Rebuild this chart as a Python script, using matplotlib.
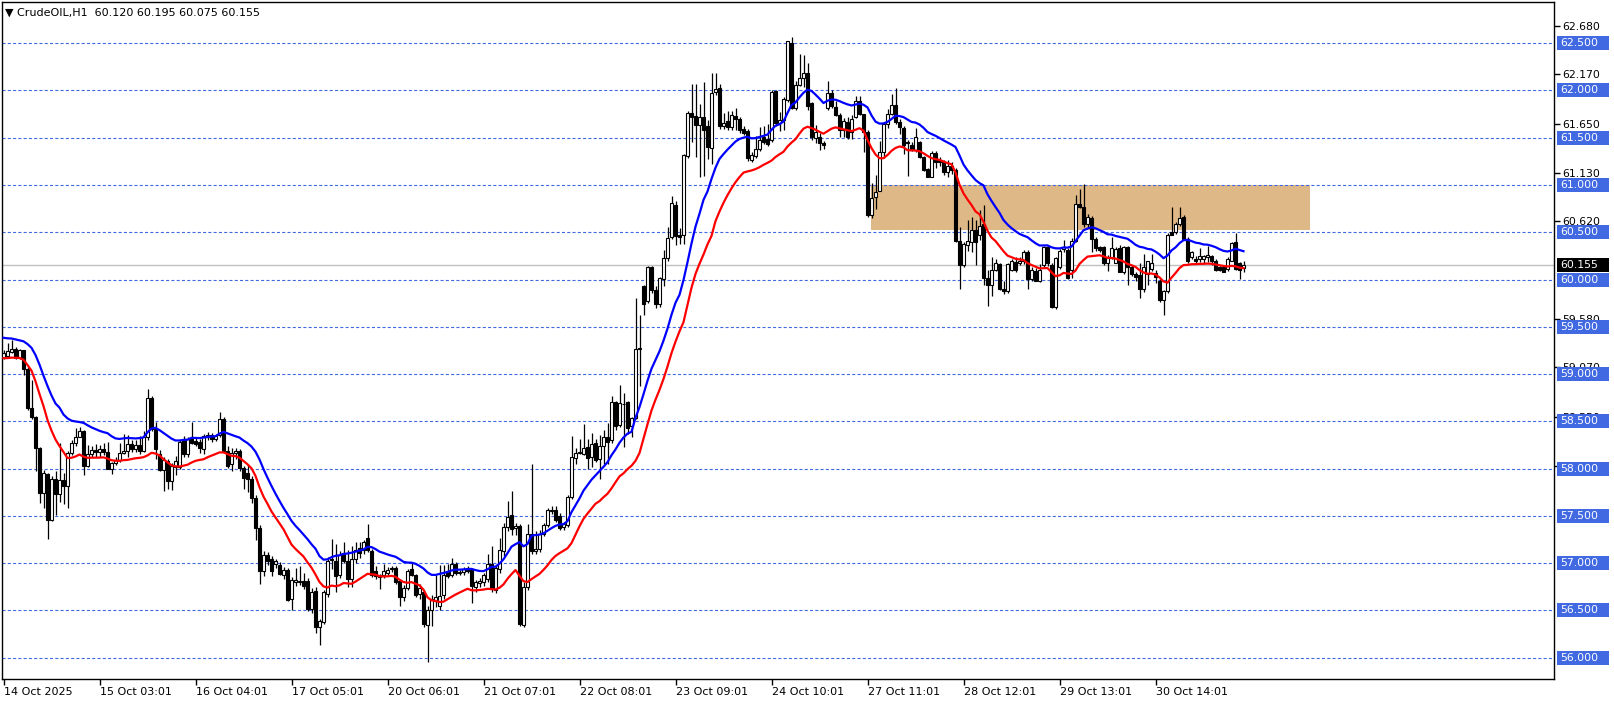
import numpy as np
import matplotlib
matplotlib.use('Agg')
import matplotlib.pyplot as plt
import matplotlib.transforms as mtransforms
from matplotlib.patches import Rectangle

# CrudeOIL H1 candles, 14 Oct 2025 .. 30 Oct 2025
opens = [
    59.18, 59.19, 59.23, 59.27, 59.17, 59.25, 59.05, 58.64, 58.55, 58.22, 57.74, 57.94,
    57.46, 57.89, 57.73, 57.88, 57.82, 58.17, 58.27, 58.34, 58.40, 58.03, 58.15, 58.20,
    58.18, 58.21, 58.18, 58.00, 58.06, 58.09, 58.17, 58.19, 58.26, 58.21, 58.25, 58.19,
    58.33, 58.75, 58.42, 58.16, 57.99, 58.08, 57.87, 58.02, 58.02, 58.31, 58.15, 58.31,
    58.29, 58.28, 58.21, 58.33, 58.36, 58.31, 58.36, 58.52, 58.19, 58.05, 58.17, 58.19,
    58.01, 57.95, 57.89, 57.69, 57.37, 56.92, 57.09, 57.04, 56.99, 56.98, 56.88, 56.93,
    56.62, 56.80, 56.80, 56.81, 56.81, 56.52, 56.71, 56.33, 56.38, 56.67, 57.03, 57.02,
    56.87, 57.11, 57.02, 56.83, 57.04, 57.16, 57.14, 57.27, 57.13, 56.92, 56.88, 56.87,
    56.90, 56.94, 56.95, 56.81, 56.64, 56.74, 56.94, 56.87, 56.67, 56.70, 56.35, 56.51,
    56.60, 56.55, 56.66, 56.92, 56.87, 56.99, 56.90, 56.91, 56.95, 56.93, 56.75, 56.79,
    56.80, 56.83, 56.99, 56.72, 56.94, 57.13, 57.38, 57.51, 57.37, 57.39, 56.35, 56.75,
    57.31, 57.13, 57.15, 57.31, 57.40, 57.55, 57.56, 57.50, 57.38, 57.40, 57.70, 58.11,
    58.17, 58.16, 58.23, 58.12, 58.27, 58.10, 58.24, 58.34, 58.30, 58.71, 58.46, 58.68,
    58.70, 58.45, 58.54, 59.27, 59.93, 59.77, 60.13, 59.89, 59.74, 60.01, 60.23, 60.45,
    60.79, 60.47, 60.47, 61.31, 61.76, 61.73, 61.64, 61.72, 61.62, 61.39, 61.98, 62.03,
    61.62, 61.68, 61.61, 61.73, 61.70, 61.59, 61.57, 61.26, 61.31, 61.38, 61.51, 61.49,
    61.48, 61.99, 61.66, 61.69, 61.90, 62.50, 61.82, 62.06, 62.13, 62.18, 61.87, 61.50,
    61.51, 61.44, 61.81, 61.97, 61.83, 61.74, 61.58, 61.67, 61.56, 61.72, 61.89, 61.75,
    61.56, 60.68, 60.87, 60.94, 61.35, 61.65, 61.75, 61.85, 61.67, 61.60, 61.45, 61.42,
    61.37, 61.45, 61.30, 61.17, 61.09, 61.34, 61.26, 61.24, 61.14, 61.20, 61.16, 60.41,
    60.15, 60.37, 60.40, 60.52, 60.47, 60.59, 60.02, 59.94, 60.10, 60.16, 59.90, 59.88,
    60.10, 60.19, 60.17, 60.20, 60.29, 60.01, 60.09, 59.99, 60.15, 60.34, 60.15, 59.71,
    60.13, 60.32, 60.31, 60.10, 60.41, 60.80, 60.77, 60.59, 60.65, 60.43, 60.34, 60.34,
    60.17, 60.23, 60.18, 60.33, 60.08, 60.34, 60.13, 60.06, 60.05, 59.90, 60.06, 60.11,
    60.07, 59.99, 59.78, 59.88, 60.50, 60.50, 60.59, 60.66, 60.43, 60.24, 60.22, 60.22,
    60.22, 60.24, 60.25, 60.20, 60.13, 60.13, 60.11, 60.20, 60.40, 60.17, 60.12]

highs = [
    59.25, 59.33, 59.36, 59.29, 59.27, 59.26, 59.07, 58.94, 58.56, 58.23, 57.99, 57.95,
    57.92, 57.97, 58.27, 57.95, 58.19, 58.30, 58.43, 58.44, 58.41, 58.25, 58.24, 58.26,
    58.25, 58.27, 58.28, 58.07, 58.12, 58.27, 58.37, 58.36, 58.30, 58.30, 58.35, 58.40,
    58.84, 58.77, 58.49, 58.20, 58.12, 58.10, 58.06, 58.13, 58.30, 58.35, 58.33, 58.49,
    58.32, 58.31, 58.37, 58.39, 58.38, 58.37, 58.60, 58.55, 58.24, 58.22, 58.22, 58.21,
    58.03, 58.04, 57.92, 57.72, 57.40, 57.13, 57.12, 57.08, 57.04, 57.01, 56.96, 56.95,
    56.85, 56.95, 56.97, 56.90, 56.84, 56.74, 56.75, 56.41, 56.72, 57.07, 57.26, 57.20,
    57.13, 57.22, 57.14, 57.18, 57.22, 57.22, 57.25, 57.41, 57.15, 56.97, 56.89, 56.99,
    56.96, 56.97, 56.97, 56.83, 56.77, 56.94, 57.00, 56.89, 56.78, 56.71, 56.55, 56.66,
    56.87, 56.98, 56.98, 56.99, 57.06, 57.01, 56.93, 56.96, 56.97, 56.95, 56.82, 56.84,
    56.90, 57.10, 57.18, 56.98, 57.27, 57.43, 57.66, 57.76, 57.42, 57.41, 56.80, 57.41,
    58.05, 57.34, 57.35, 57.43, 57.58, 57.60, 57.60, 57.53, 57.44, 57.72, 58.35, 58.22,
    58.31, 58.47, 58.31, 58.38, 58.31, 58.36, 58.41, 58.48, 58.77, 58.72, 58.88, 58.80,
    58.72, 58.55, 59.80, 59.62, 59.94, 60.14, 60.14, 59.93, 60.03, 60.31, 60.56, 60.88,
    60.83, 60.55, 61.33, 61.78, 62.07, 62.07, 61.86, 62.09, 61.69, 62.19, 62.19, 62.07,
    61.76, 61.78, 61.78, 61.82, 61.72, 61.62, 61.59, 61.35, 61.52, 61.61, 61.62, 61.65,
    62.01, 62.00, 61.77, 61.93, 62.52, 62.57, 62.10, 62.39, 62.38, 62.29, 61.88, 61.63,
    61.55, 61.47, 62.10, 62.01, 61.89, 61.76, 61.71, 61.72, 61.74, 61.94, 61.94, 61.75,
    61.58, 61.02, 61.11, 61.47, 61.67, 61.80, 61.96, 62.03, 61.70, 61.62, 61.48, 61.45,
    61.60, 61.47, 61.31, 61.18, 61.36, 61.36, 61.30, 61.26, 61.26, 61.24, 61.18, 60.56,
    60.40, 60.63, 60.66, 60.63, 60.74, 60.79, 60.10, 60.24, 60.22, 60.18, 59.98, 60.18,
    60.22, 60.24, 60.24, 60.31, 60.31, 60.13, 60.12, 60.16, 60.36, 60.37, 60.17, 60.24,
    60.32, 60.42, 60.33, 60.44, 60.89, 60.96, 61.01, 60.69, 60.67, 60.45, 60.36, 60.35,
    60.26, 60.45, 60.34, 60.37, 60.35, 60.35, 60.15, 60.08, 60.17, 60.27, 60.20, 60.27,
    60.10, 60.01, 59.89, 60.49, 60.77, 60.61, 60.77, 60.68, 60.45, 60.30, 60.25, 60.33,
    60.26, 60.35, 60.26, 60.22, 60.14, 60.15, 60.24, 60.40, 60.49, 60.19, 60.195]

lows = [
    59.16, 59.17, 59.22, 59.16, 59.16, 58.99, 58.62, 58.53, 57.97, 57.64, 57.58, 57.26,
    57.45, 57.51, 57.65, 57.63, 57.58, 58.14, 58.24, 58.33, 57.93, 58.02, 58.12, 58.12,
    58.12, 58.14, 58.00, 57.94, 58.04, 58.07, 58.15, 58.12, 58.18, 58.18, 58.15, 58.18,
    58.30, 58.40, 58.10, 57.97, 57.76, 57.78, 57.77, 57.93, 58.00, 58.12, 58.12, 58.26,
    58.24, 58.17, 58.16, 58.30, 58.28, 58.29, 58.33, 58.17, 58.01, 57.98, 58.10, 57.98,
    57.78, 57.75, 57.64, 57.25, 56.78, 56.86, 56.98, 56.86, 56.95, 56.88, 56.83, 56.60,
    56.50, 56.76, 56.77, 56.73, 56.49, 56.47, 56.26, 56.13, 56.36, 56.64, 56.94, 56.70,
    56.84, 57.00, 56.75, 56.75, 57.00, 57.06, 57.10, 57.12, 56.85, 56.83, 56.73, 56.84,
    56.87, 56.91, 56.78, 56.55, 56.60, 56.72, 56.86, 56.64, 56.62, 56.33, 55.95, 56.34,
    56.54, 56.50, 56.62, 56.84, 56.85, 56.88, 56.87, 56.88, 56.90, 56.58, 56.70, 56.75,
    56.76, 56.80, 56.70, 56.68, 56.90, 57.08, 57.34, 57.30, 57.30, 56.34, 56.33, 56.72,
    57.10, 57.10, 57.12, 57.29, 57.38, 57.52, 57.44, 57.35, 57.35, 57.38, 57.68, 58.05,
    58.15, 58.14, 58.00, 58.02, 58.07, 57.89, 58.05, 58.05, 58.27, 58.41, 58.44, 58.23,
    58.37, 58.34, 58.52, 58.87, 59.62, 59.75, 59.86, 59.70, 59.71, 59.93, 60.20, 60.43,
    60.37, 60.38, 60.38, 61.29, 61.45, 61.30, 61.08, 61.10, 61.28, 61.22, 61.95, 61.59,
    61.59, 61.58, 61.58, 61.58, 61.55, 61.53, 61.25, 61.24, 61.29, 61.36, 61.43, 61.41,
    61.46, 61.62, 61.57, 61.58, 61.88, 61.80, 61.79, 62.05, 62.04, 61.79, 61.48, 61.44,
    61.37, 61.38, 61.79, 61.82, 61.73, 61.51, 61.51, 61.49, 61.49, 61.71, 61.74, 61.35,
    60.66, 60.65, 60.75, 60.94, 61.29, 61.60, 61.74, 61.65, 61.54, 61.33, 61.10, 61.36,
    61.35, 61.29, 61.15, 61.08, 61.08, 61.18, 61.20, 61.11, 61.08, 61.12, 60.40, 59.90,
    60.13, 60.30, 60.29, 60.15, 60.42, 59.94, 59.72, 59.83, 60.09, 59.89, 59.85, 59.86,
    60.09, 60.08, 60.15, 60.16, 59.90, 59.98, 59.98, 59.97, 60.13, 60.14, 59.70, 59.69,
    60.11, 60.29, 60.01, 60.02, 60.40, 60.76, 60.56, 60.55, 60.29, 60.30, 60.29, 60.15,
    60.09, 60.22, 60.17, 60.08, 60.06, 59.94, 60.04, 59.98, 59.81, 59.87, 59.94, 60.09,
    59.96, 59.76, 59.62, 59.86, 60.47, 60.48, 60.57, 60.42, 60.18, 60.22, 60.17, 60.19,
    60.17, 60.19, 60.15, 60.09, 60.09, 60.08, 60.09, 60.20, 60.10, 60.01, 60.075]

closes = [
    59.22, 59.24, 59.27, 59.17, 59.25, 59.05, 58.64, 58.55, 58.22, 57.74, 57.95, 57.46,
    57.89, 57.73, 57.88, 57.82, 58.17, 58.27, 58.34, 58.40, 58.03, 58.15, 58.20, 58.18,
    58.21, 58.18, 58.00, 58.06, 58.09, 58.17, 58.19, 58.26, 58.21, 58.25, 58.19, 58.33,
    58.75, 58.42, 58.21, 57.99, 58.09, 57.87, 58.03, 58.08, 58.28, 58.15, 58.31, 58.27,
    58.26, 58.22, 58.35, 58.36, 58.31, 58.35, 58.52, 58.19, 58.03, 58.17, 58.19, 58.01,
    57.90, 57.89, 57.69, 57.37, 56.92, 57.09, 57.02, 56.92, 57.02, 56.89, 56.93, 56.61,
    56.82, 56.82, 56.81, 56.76, 56.52, 56.69, 56.33, 56.39, 56.69, 57.02, 57.04, 56.86,
    57.09, 57.02, 56.83, 57.04, 57.14, 57.11, 57.22, 57.14, 56.88, 56.86, 56.85, 56.92,
    56.93, 56.95, 56.80, 56.64, 56.74, 56.92, 56.87, 56.66, 56.74, 56.36, 56.51, 56.62,
    56.64, 56.65, 56.88, 56.86, 56.99, 56.90, 56.91, 56.94, 56.92, 56.76, 56.80, 56.81,
    56.87, 56.99, 56.73, 56.95, 57.14, 57.38, 57.49, 57.36, 57.39, 56.36, 56.75, 57.31,
    57.13, 57.15, 57.31, 57.40, 57.56, 57.56, 57.46, 57.37, 57.41, 57.70, 58.12, 58.17,
    58.18, 58.22, 58.11, 58.26, 58.09, 58.24, 58.33, 58.28, 58.70, 58.45, 58.69, 58.68,
    58.43, 58.54, 59.27, 59.28, 59.74, 60.13, 59.89, 59.74, 60.02, 60.23, 60.44, 60.81,
    60.46, 60.45, 61.32, 61.76, 61.72, 61.64, 61.72, 61.58, 61.40, 61.97, 62.02, 61.62,
    61.66, 61.61, 61.74, 61.70, 61.58, 61.55, 61.29, 61.32, 61.38, 61.48, 61.46, 61.43,
    61.98, 61.66, 61.69, 61.91, 62.52, 61.82, 62.06, 62.13, 62.18, 61.84, 61.51, 61.56,
    61.44, 61.42, 61.97, 61.84, 61.74, 61.58, 61.68, 61.51, 61.70, 61.89, 61.75, 61.56,
    60.68, 60.86, 60.93, 61.35, 61.65, 61.75, 61.85, 61.67, 61.61, 61.42, 61.44, 61.37,
    61.51, 61.30, 61.16, 61.09, 61.34, 61.24, 61.24, 61.14, 61.20, 61.16, 60.41, 60.15,
    60.38, 60.41, 60.52, 60.40, 60.57, 60.02, 59.94, 60.10, 60.17, 59.90, 59.88, 60.16,
    60.20, 60.10, 60.20, 60.29, 60.01, 60.10, 59.99, 60.10, 60.34, 60.17, 59.71, 60.23,
    60.30, 60.34, 60.02, 60.41, 60.80, 60.77, 60.59, 60.66, 60.43, 60.33, 60.31, 60.17,
    60.23, 60.33, 60.32, 60.08, 60.34, 60.13, 60.06, 60.03, 59.90, 60.13, 60.20, 60.18,
    60.03, 59.78, 59.88, 60.47, 60.47, 60.59, 60.65, 60.43, 60.20, 60.29, 60.20, 60.25,
    60.25, 60.26, 60.20, 60.10, 60.10, 60.08, 60.22, 60.39, 60.11, 60.10, 60.155]

# bar index of each date label on the time axis
label_bars = [0, 24, 48, 72, 96, 120, 144, 168, 192, 216, 240, 264, 288]
date_labels = ['14 Oct 2025', '15 Oct 03:01', '16 Oct 04:01', '17 Oct 05:01',
               '20 Oct 06:01', '21 Oct 07:01', '22 Oct 08:01', '23 Oct 09:01',
               '24 Oct 10:01', '27 Oct 11:01', '28 Oct 12:01', '29 Oct 13:01',
               '30 Oct 14:01']

# horizontal levels drawn on the chart, and the visible part of the auto price scale
levels = [56.0, 56.5, 57.0, 57.5, 58.0, 58.5, 59.0, 59.5, 60.0, 60.5, 61.0, 61.5, 62.0, 62.5]
scale_ticks = [62.68, 62.17, 61.65, 61.13, 60.62, 59.58, 59.07, 58.55, 58.03]
last_price = 60.155

# resistance zone (bar from / bar to, price low / high)
zone_bars = [216.9, 326.7]
zone_prices = [60.52, 61.0]

# starting values of the two moving averages (on highs / on lows)
ma_high_start = 59.40
ma_low_start = 59.17
ma_period = 18

header = '\u25bc CrudeOIL,H1  60.120 60.195 60.075 60.155'


def ema(vals, seed, period):
    a = 2.0 / (period + 1)
    e = seed
    out = []
    for v in vals:
        e = e + a * (v - e)
        out.append(e)
    return np.array(out)


plt.rcParams['font.family'] = 'DejaVu Sans'
plt.rcParams['lines.scale_dashes'] = False
fs = 7.8      # price scale
fs_date = 8.0 # time axis / header

W, H = 1614, 705
fig = plt.figure(figsize=(W / 100, H / 100), dpi=100)
# axes frame in pixels: left 2, right 1554, top 2, bottom 679
ax = fig.add_axes([2 / W, (H - 679) / H, (1554 - 2) / W, (679 - 2) / H])

o = np.array(opens)
h = np.array(highs)
l = np.array(lows)
c = np.array(closes)
idx = np.arange(len(c))

# zone
ax.add_patch(Rectangle((zone_bars[0], zone_prices[0]), zone_bars[1] - zone_bars[0],
                       zone_prices[1] - zone_prices[0], facecolor='#DEB887',
                       edgecolor='none', zorder=0.5))

# dashed levels + last price line
for lv in levels:
    ax.axhline(lv, color='#4169E1', lw=0.8, linestyle=(0, (2.2, 1.6)), zorder=1)
ax.axhline(last_price, color='#C0C0C0', lw=1.0, zorder=1)

# candles
ax.vlines(idx, l, h, color='black', lw=0.9, zorder=2)
up = c >= o
body_lo = np.minimum(o, c)
body_h = np.maximum(np.abs(c - o), 0.004)
ax.bar(idx[up], body_h[up], bottom=body_lo[up], width=0.62, color='white',
       edgecolor='black', linewidth=0.8, zorder=3)
ax.bar(idx[~up], body_h[~up], bottom=body_lo[~up], width=0.62, color='black',
       edgecolor='black', linewidth=0.8, zorder=3)

# moving averages of highs and lows
ax.plot(idx, ema(h, ma_high_start, ma_period), color='#0000FF', lw=1.6, zorder=4)
ax.plot(idx, ema(l, ma_low_start, ma_period), color='#FF0000', lw=1.6, zorder=4)

ax.set_xlim(-0.375, 387.625)
ax.set_ylim(55.775, 62.936)

for s in ax.spines.values():
    s.set_color('black')
    s.set_linewidth(1.0)

ax.set_xticks(label_bars)
ax.set_xticklabels(date_labels, ha='left', fontsize=fs_date)
ax.tick_params(axis='x', direction='out', length=4, width=1, pad=2)

ax.yaxis.tick_right()
ax.set_yticks(scale_ticks)
ax.set_yticklabels(['%.3f' % t for t in scale_ticks], fontsize=fs)
ax.tick_params(axis='y', direction='out', length=4, width=1, pad=2)

# price labels on the scale
tr = mtransforms.blended_transform_factory(fig.transFigure, ax.transData)
box_h = 14 / 94.55
for lv in levels:
    fig.add_artist(Rectangle((1557 / W, lv - box_h / 2), 52 / W, box_h, transform=tr,
                             facecolor='#4169E1', edgecolor='none', zorder=5))
    fig.text(1560 / W, lv, '%.3f' % lv, transform=tr, color='white', fontsize=fs,
             va='center', ha='left', zorder=6)
fig.add_artist(Rectangle((1557 / W, last_price - box_h / 2), 52 / W, box_h, transform=tr,
                         facecolor='black', edgecolor='none', zorder=5))
fig.text(1560 / W, last_price, '%.3f' % last_price, transform=tr, color='white',
         fontsize=fs, va='center', ha='left', zorder=6)

fig.text(5 / W, 1 - 12.5 / H, header, fontsize=fs_date, va='center', ha='left')

fig.savefig('out.png', dpi=100)
